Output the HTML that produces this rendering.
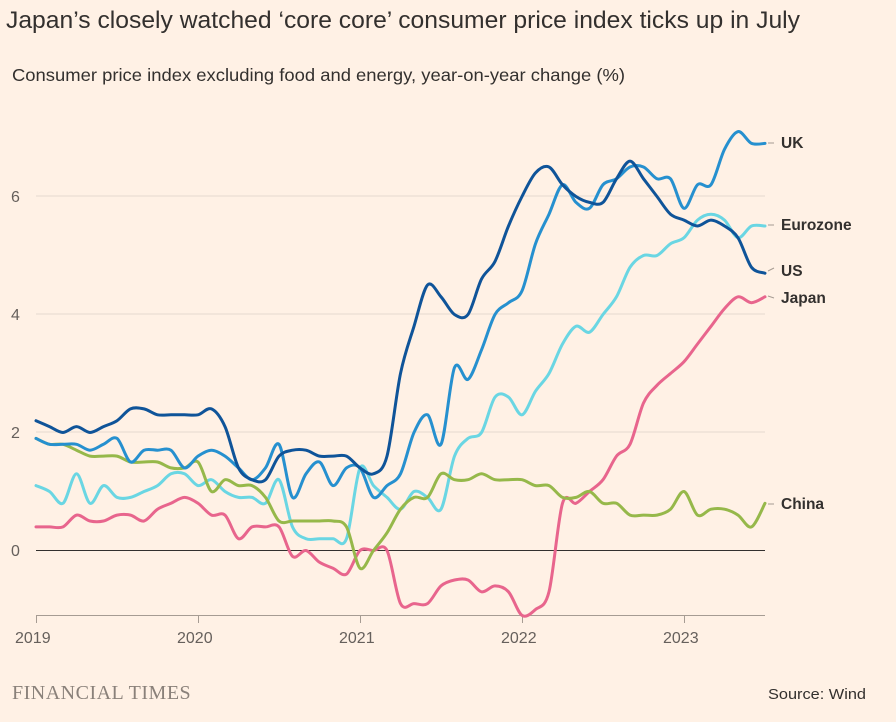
<!DOCTYPE html>
<html><head><meta charset="utf-8"><style>
body{margin:0;background:#fff1e5;width:896px;height:722px;overflow:hidden;font-family:"Liberation Sans",sans-serif;color:#33302e}
svg{position:absolute;left:0;top:0}
</style></head><body>
<svg id="s" width="896" height="722" xmlns="http://www.w3.org/2000/svg">
<text x="6" y="28" font-size="24" fill="#33302e" textLength="794" lengthAdjust="spacingAndGlyphs">Japan’s closely watched ‘core core’ consumer price index ticks up in July</text>
<text x="12" y="81" font-size="17.5" fill="#33302e" textLength="613" lengthAdjust="spacingAndGlyphs">Consumer price index excluding food and energy, year-on-year change (%)</text>
<g stroke="#e6d9ce" stroke-width="1">
<line x1="36" x2="765" y1="196" y2="196"/><line x1="36" x2="765" y1="314" y2="314"/><line x1="36" x2="765" y1="432" y2="432"/>
</g>
<line x1="36" x2="765" y1="550.5" y2="550.5" stroke="#33302e" stroke-width="1"/>
<line x1="36" x2="765" y1="615.5" y2="615.5" stroke="#a69c93" stroke-width="1"/>
<g stroke="#a69c93"><line x1="36.5" x2="36.5" y1="615" y2="623"/><line x1="198.5" x2="198.5" y1="615" y2="623"/><line x1="360.5" x2="360.5" y1="615" y2="623"/><line x1="522.5" x2="522.5" y1="615" y2="623"/><line x1="684.5" x2="684.5" y1="615" y2="623"/></g>
<g font-size="16" fill="#66605c">
<text x="11" y="202">6</text><text x="11" y="320">4</text><text x="11" y="438">2</text><text x="11" y="556">0</text>
<text x="15" y="643">2019</text><text x="177" y="643">2020</text><text x="339" y="643">2021</text><text x="501" y="643">2022</text><text x="663" y="643">2023</text>
</g>
<g id="lines" fill="none" stroke-width="3" stroke-linejoin="round" stroke-linecap="round"></g>
<g stroke="#a69c93" stroke-width="1"><line x1="768" x2="774" y1="143" y2="143"/><line x1="768" x2="774" y1="225" y2="225"/><line x1="768" x2="774" y1="271" y2="268"/><line x1="768" x2="774" y1="296" y2="298"/><line x1="768" x2="774" y1="504" y2="504"/></g>
<g font-size="15.5" font-weight="bold" fill="#33302e">
<text x="781" y="148">UK</text><text x="781" y="230">Eurozone</text><text x="781" y="276">US</text><text x="781" y="303">Japan</text><text x="781" y="509">China</text>
</g>
<text x="12" y="699" font-family="Liberation Serif,serif" font-size="20" fill="#8a817a" letter-spacing="0.5">FINANCIAL TIMES</text>
<text x="768" y="699" font-size="14.5" fill="#33302e" textLength="98" lengthAdjust="spacingAndGlyphs">Source: Wind</text>
</svg>
<script>
const D={
"#6ad6e3":[1.1,1.0,0.8,1.3,0.8,1.1,0.9,0.9,1.0,1.1,1.3,1.3,1.1,1.2,1.0,0.9,0.9,0.8,1.2,0.4,0.2,0.2,0.2,0.2,1.4,1.1,0.9,0.7,1.0,0.9,0.7,1.6,1.9,2.0,2.6,2.6,2.3,2.7,3.0,3.5,3.8,3.7,4.0,4.3,4.8,5.0,5.0,5.2,5.3,5.6,5.7,5.6,5.3,5.5,5.5],
"#e8658d":[0.4,0.4,0.4,0.6,0.5,0.5,0.6,0.6,0.5,0.7,0.8,0.9,0.8,0.6,0.6,0.2,0.4,0.4,0.4,-0.1,0.0,-0.2,-0.3,-0.4,0.0,0.0,0.0,-0.9,-0.9,-0.9,-0.6,-0.5,-0.5,-0.7,-0.6,-0.7,-1.1,-1.0,-0.7,0.8,0.8,1.0,1.2,1.6,1.8,2.5,2.8,3.0,3.2,3.5,3.8,4.1,4.3,4.2,4.3],
"#96b84a":[1.9,1.8,1.8,1.7,1.6,1.6,1.6,1.5,1.5,1.5,1.4,1.4,1.5,1.0,1.2,1.1,1.1,0.9,0.5,0.5,0.5,0.5,0.5,0.4,-0.3,0.0,0.3,0.7,0.9,0.9,1.3,1.2,1.2,1.3,1.2,1.2,1.2,1.1,1.1,0.9,0.9,1.0,0.8,0.8,0.6,0.6,0.6,0.7,1.0,0.6,0.7,0.7,0.6,0.4,0.8],
"#2690cf":[1.9,1.8,1.8,1.8,1.7,1.8,1.9,1.5,1.7,1.7,1.7,1.4,1.6,1.7,1.6,1.4,1.2,1.4,1.8,0.9,1.3,1.5,1.1,1.4,1.4,0.9,1.1,1.3,2.0,2.3,1.8,3.1,2.9,3.4,4.0,4.2,4.4,5.2,5.7,6.2,5.9,5.8,6.2,6.3,6.5,6.5,6.3,6.3,5.8,6.2,6.2,6.8,7.1,6.9,6.9],
"#0f5499":[2.2,2.1,2.0,2.1,2.0,2.1,2.2,2.4,2.4,2.3,2.3,2.3,2.3,2.4,2.1,1.4,1.2,1.2,1.6,1.7,1.7,1.6,1.6,1.6,1.4,1.3,1.6,3.0,3.8,4.5,4.3,4.0,4.0,4.6,4.9,5.5,6.0,6.4,6.5,6.2,6.0,5.9,5.9,6.3,6.6,6.3,6.0,5.7,5.6,5.5,5.6,5.5,5.3,4.8,4.7]};
const g=document.getElementById('lines');
for(const c in D){const v=D[c];const p=v.map((y,i)=>[36+i*13.5,550.5-y*59]);
let d=`M${p[0][0]},${p[0][1]}`;
for(let i=0;i<p.length-1;i++){const p0=p[Math.max(0,i-1)],p1=p[i],p2=p[i+1],p3=p[Math.min(p.length-1,i+2)];
const t=0.16;d+=`C${p1[0]+(p2[0]-p0[0])*t},${p1[1]+(p2[1]-p0[1])*t} ${p2[0]-(p3[0]-p1[0])*t},${p2[1]-(p3[1]-p1[1])*t} ${p2[0]},${p2[1]}`;}
const e=document.createElementNS('http://www.w3.org/2000/svg','path');e.setAttribute('d',d);e.setAttribute('stroke',c);g.appendChild(e);}
</script>
</body></html>
